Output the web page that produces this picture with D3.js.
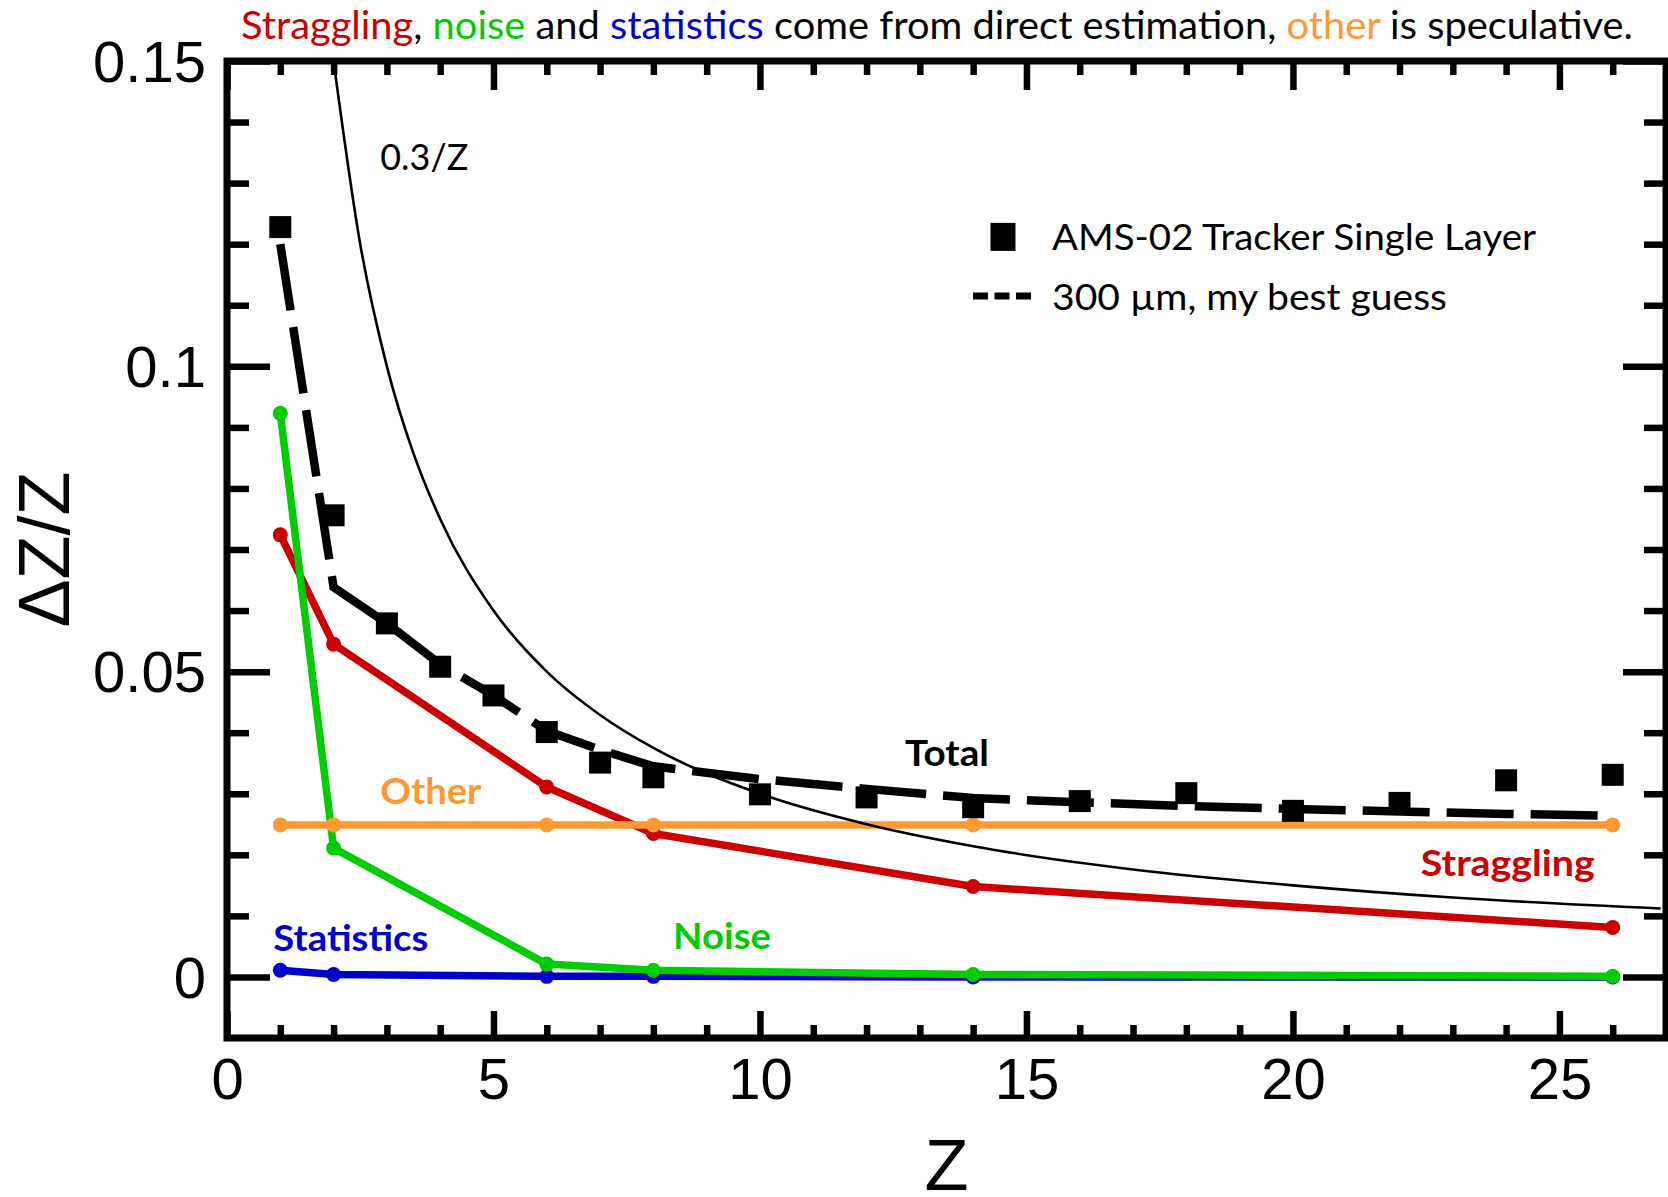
<!DOCTYPE html>
<html>
  <head>
    <meta charset="utf-8" />
    <title>Delta Z / Z vs Z</title>
    <script src="https://d3js.org/d3.v7.min.js"></script>
    <style>
      html, body {
        margin: 0;
        padding: 0;
        background: white;
      }
      .tick text {
        font-family: "Liberation Sans", Arial, sans-serif;
        font-size: 58px;
        fill: black;
      }
      .calib {
        font-family: Lato, "Open Sans", sans-serif;
      }
    </style>
  </head>
  <body>
    <script>
      var W = 1668, H = 1197;

      // component curves, all share the same Z points
      var zPts = [1, 2, 6, 8, 14, 26];
      var straggling = [0.0724, 0.0545, 0.0311, 0.0235, 0.0148, 0.0081];
      var noise = [0.0923, 0.0211, 0.0021, 0.0011, 0.0004, 0.0001];
      var statistics = [0.0011, 0.0004, 0.0001, 0.0001, 0.0000, 0.0000];
      var other = [0.0249, 0.0249, 0.0249, 0.0249, 0.0249, 0.0249];

      // "300 um, my best guess" dashed total
      var zTotal = [1, 2, 3, 4, 5, 6, 7, 8, 10, 12, 14, 16, 18, 20, 22, 24, 26];
      var total = [0.1200, 0.0638, 0.0579, 0.0512, 0.0461, 0.0403, 0.0372, 0.0345, 0.0324, 0.0308, 0.0293, 0.0286, 0.0280, 0.0275, 0.0271, 0.0267, 0.0264];

      // AMS-02 tracker single layer measurements
      var zAms = [1, 2, 3, 4, 5, 6, 7, 8, 10, 12, 14, 16, 18, 20, 22, 24, 26];
      var ams = [0.1228, 0.0756, 0.0579, 0.0508, 0.0461, 0.0401, 0.0351, 0.0327, 0.0299, 0.0294, 0.0278, 0.0288, 0.0301, 0.0272, 0.0285, 0.0322, 0.0331];

      // thin 0.3/Z reference curve
      var zRef = [2, 2.5, 3, 3.5, 4, 5, 6, 7, 8, 10, 12, 14, 17, 20, 23, 26.9];
      var ref = [0.150, 0.120, 0.100, 0.0857, 0.075, 0.060, 0.050, 0.0429, 0.0375, 0.030, 0.025, 0.0214, 0.0176, 0.015, 0.0130, 0.0112];

      var xTicks = [0, 5, 10, 15, 20, 25];
      var xTickLabels = ["0", "5", "10", "15", "20", "25"];
      var yTicks = [0, 0.05, 0.1, 0.15];
      var yTickLabels = ["0", "0.05", "0.1", "0.15"];

      var colors = {
        straggling: "#cc0000",
        noise: "#00cc00",
        statistics: "#0000cc",
        other: "#ff9933"
      };

      var pLeft = 227, pRight = 1666, pTop = 61, pBottom = 1038;

      var x = d3.scaleLinear().domain([0, 27]).range([pLeft, pRight]);
      var y = d3.scaleLinear().domain([-0.01, 0.15]).range([pBottom, pTop]);

      var svg = d3.select("body")
        .append("svg")
        .attr("width", W)
        .attr("height", H)
        .attr("viewBox", "0 0 " + W + " " + H);

      svg.append("rect").attr("width", W).attr("height", H).attr("fill", "white");

      svg.append("clipPath").attr("id", "plotclip")
        .append("rect")
        .attr("x", pLeft).attr("y", pTop)
        .attr("width", pRight - pLeft).attr("height", pBottom - pTop);

      // ---- ticks (inward on all four sides)
      var xMinor = d3.range(1, 27).filter(function (d) { return d % 5 !== 0; });
      var yMinor = d3.range(0, 15).filter(function (d) { return d % 5 !== 0; })
        .map(function (d) { return d / 100; });

      function tickGroup(axis, tx, ty, labelDy) {
        var g = svg.append("g")
          .attr("transform", "translate(" + tx + "," + ty + ")")
          .call(axis);
        g.select(".domain").remove();
        g.selectAll(".tick line").attr("stroke", "black").attr("stroke-width", 6.5);
        g.selectAll(".tick text").attr("dy", labelDy || null);
        return g;
      }

      tickGroup(d3.axisBottom(x).tickValues(xMinor).tickSize(-13).tickFormat(""), 0, pBottom);
      tickGroup(d3.axisBottom(x).tickValues(xTicks).tickSize(-27).tickPadding(20)
        .tickFormat(function (d, i) { return xTickLabels[i]; }), 0, pBottom, "0.71em");
      tickGroup(d3.axisTop(x).tickValues(xMinor).tickSize(-14).tickFormat(""), 0, pTop);
      tickGroup(d3.axisTop(x).tickValues(xTicks).tickSize(-29).tickFormat(""), 0, pTop);

      tickGroup(d3.axisLeft(y).tickValues(yMinor).tickSize(-22).tickFormat(""), pLeft, 0);
      tickGroup(d3.axisLeft(y).tickValues(yTicks).tickSize(-43).tickPadding(21)
        .tickFormat(function (d, i) { return yTickLabels[i]; }), pLeft, 0, "0.35em");
      tickGroup(d3.axisRight(y).tickValues(yMinor).tickSize(-22).tickFormat(""), pRight, 0);
      tickGroup(d3.axisRight(y).tickValues(yTicks).tickSize(-43).tickFormat(""), pRight, 0);

      // frame
      svg.append("rect")
        .attr("x", pLeft).attr("y", pTop)
        .attr("width", pRight - pLeft).attr("height", pBottom - pTop)
        .attr("fill", "none")
        .attr("stroke", "black")
        .attr("stroke-width", 7);

      // ---- curves
      var plot = svg.append("g").attr("clip-path", "url(#plotclip)");

      function series(zs, vals) {
        return zs.map(function (z, i) { return [z, vals[i]]; });
      }

      var line = d3.line()
        .x(function (d) { return x(d[0]); })
        .y(function (d) { return y(d[1]); });

      var comps = [
        { key: "straggling", vals: straggling },
        { key: "statistics", vals: statistics },
        { key: "noise", vals: noise },
        { key: "other", vals: other }
      ];

      comps.forEach(function (c) {
        var pts = series(zPts, c.vals);
        plot.append("path")
          .datum(pts)
          .attr("d", line)
          .attr("fill", "none")
          .attr("stroke", colors[c.key])
          .attr("stroke-width", 7.5)
          .attr("stroke-linejoin", "round");
        plot.selectAll(".dot-" + c.key)
          .data(pts)
          .enter()
          .append("circle")
          .attr("class", "dot-" + c.key)
          .attr("cx", function (d) { return x(d[0]); })
          .attr("cy", function (d) { return y(d[1]); })
          .attr("r", 7.5)
          .attr("fill", colors[c.key]);
      });

      // 0.3/Z
      var smooth = d3.line()
        .x(function (d) { return x(d[0]); })
        .y(function (d) { return y(d[1]); })
        .curve(d3.curveMonotoneX);
      plot.append("path")
        .datum(series(zRef, ref))
        .attr("d", smooth)
        .attr("fill", "none")
        .attr("stroke", "black")
        .attr("stroke-width", 2.6);

      // dashed total
      plot.append("path")
        .datum(series(zTotal, total))
        .attr("d", line)
        .attr("fill", "none")
        .attr("stroke", "black")
        .attr("stroke-width", 8.5)
        .attr("stroke-dasharray", "67,17")
        .attr("stroke-linejoin", "miter");

      // squares
      var sq = 22;
      plot.selectAll(".ams")
        .data(series(zAms, ams))
        .enter()
        .append("rect")
        .attr("class", "ams")
        .attr("x", function (d) { return x(d[0]) - sq / 2; })
        .attr("y", function (d) { return y(d[1]) - sq / 2; })
        .attr("width", sq)
        .attr("height", sq)
        .attr("fill", "black");

      // ---- text labels
      function label(txt, zx, vy, color, weight, len) {
        svg.append("text")
          .attr("class", "calib")
          .attr("x", x(zx))
          .attr("y", y(vy))
          .attr("fill", color)
          .attr("font-size", 37)
          .attr("font-weight", weight)
          .attr("textLength", len)
          .attr("lengthAdjust", "spacingAndGlyphs")
          .text(txt);
      }

      label("0.3/Z", 2.876, 0.1322, "black", "normal", 88);
      label("Total", 12.72, 0.0346, "black", "bold", 84);
      label("Other", 2.876, 0.0284, colors.other, "bold", 101);
      label("Straggling", 22.4, 0.0166, colors.straggling, "bold", 174);
      label("Statistics", 0.87, 0.0042, colors.statistics, "bold", 155);
      label("Noise", 8.37, 0.0045, colors.noise, "bold", 98);

      // legend
      var legX = x(14.56), legY1 = y(0.1212), legY2 = y(0.1115);
      svg.append("rect")
        .attr("x", legX - 12.5).attr("y", legY1 - 14)
        .attr("width", 25).attr("height", 28)
        .attr("fill", "black");
      svg.append("line")
        .attr("x1", legX - 30).attr("x2", legX + 28)
        .attr("y1", legY2).attr("y2", legY2)
        .attr("stroke", "black")
        .attr("stroke-width", 7)
        .attr("stroke-dasharray", "15,6.5");
      svg.append("text").attr("class", "calib")
        .attr("x", legX + 49).attr("y", legY1 + 13)
        .attr("font-size", 37)
        .attr("textLength", 484).attr("lengthAdjust", "spacingAndGlyphs")
        .text("AMS-02 Tracker Single Layer");
      svg.append("text").attr("class", "calib")
        .attr("x", legX + 49).attr("y", legY2 + 14)
        .attr("font-size", 37)
        .attr("textLength", 395).attr("lengthAdjust", "spacingAndGlyphs")
        .text("300 \u00b5m, my best guess");

      // title
      var title = svg.append("text").attr("class", "calib")
        .attr("x", 241).attr("y", 39)
        .attr("font-size", 39)
        .attr("textLength", 1392).attr("lengthAdjust", "spacingAndGlyphs");
      [["Straggling", colors.straggling], [", ", "black"], ["noise", colors.noise],
       [" and ", "black"], ["statistics", colors.statistics],
       [" come from direct estimation, ", "black"], ["other", colors.other],
       [" is speculative.", "black"]].forEach(function (p) {
        title.append("tspan").attr("fill", p[1]).text(p[0]);
      });

      // axis titles
      svg.append("text")
        .attr("x", (pLeft + pRight) / 2).attr("y", 1190)
        .attr("text-anchor", "middle")
        .attr("font-family", "'Liberation Sans', Arial, sans-serif")
        .attr("font-size", 72)
        .text("Z");

      svg.append("text")
        .attr("transform", "translate(69," + (pTop + pBottom) / 2 + ") rotate(-90)")
        .attr("text-anchor", "middle")
        .attr("font-family", "'Liberation Sans', Arial, sans-serif")
        .attr("font-size", 72)
        .text("\u0394Z/Z");
    </script>
  </body>
</html>
